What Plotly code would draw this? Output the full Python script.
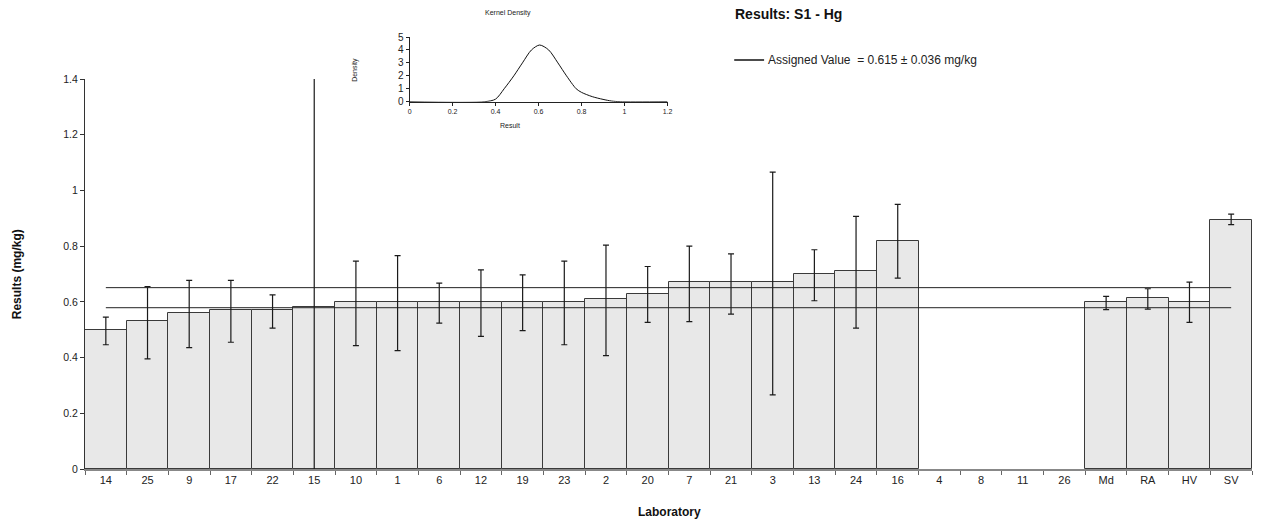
import plotly.graph_objects as go

# ---- data ----
labs = ["14", "25", "9", "17", "22", "15", "10", "1", "6", "12", "19", "23", "2", "20",
        "7", "21", "3", "13", "24", "16", "4", "8", "11", "26", "Md", "RA", "HV", "SV"]
results = [0.50, 0.53, 0.56, 0.57, 0.57, 0.58, 0.60, 0.60, 0.60, 0.60, 0.60, 0.60, 0.61, 0.63,
           0.67, 0.67, 0.67, 0.70, 0.71, 0.82, None, None, None, None, 0.60, 0.615, 0.60, 0.895]
upper = [0.545, 0.655, 0.677, 0.677, 0.625, 1.60, 0.746, 0.766, 0.667, 0.715, 0.697, 0.746, 0.804, 0.727,
         0.800, 0.772, 1.066, 0.787, 0.907, 0.950, None, None, None, None, 0.620, 0.647, 0.671, 0.915]
lower = [0.446, 0.395, 0.436, 0.455, 0.506, -0.40, 0.443, 0.425, 0.524, 0.476, 0.497, 0.446, 0.407, 0.526,
         0.529, 0.556, 0.266, 0.604, 0.506, 0.685, None, None, None, None, 0.572, 0.574, 0.526, 0.877]
assigned = 0.615
assigned_unc = 0.036

kde_x = [0.0, 0.35, 0.40, 0.44, 0.485, 0.525, 0.567, 0.605, 0.647, 0.69, 0.73, 0.775, 0.80, 0.85, 0.90, 0.94, 0.98, 1.2]
kde_y = [0.0, 0.0, 0.2, 1.0, 2.0, 3.0, 4.0, 4.38, 4.0, 3.0, 2.0, 1.0, 0.72, 0.39, 0.18, 0.05, 0.0, 0.0]

# ---- layout helpers (pixel -> paper) ----
W, H = 1261, 526
L, R, T, B = 85, 4, 10, 57
PW, PH = W - L - R, H - T - B


def px(x):
    return (x - L) / PW


def py(y):
    return (H - B - y) / PH


FONT = "Arial, Liberation Sans, sans-serif"

err_plus = [None if (u is None or v is None) else u - v for u, v in zip(upper, results)]
err_minus = [None if (l is None or v is None) else v - l for l, v in zip(lower, results)]

fig = go.Figure()

fig.add_trace(go.Bar(
    x=labs, y=results,
    marker=dict(color="#e8e8e8", line=dict(color="#3a3a3a", width=1)),
    error_y=dict(type="data", symmetric=False, array=err_plus, arrayminus=err_minus,
                 color="#1a1a1a", thickness=1.2, width=3),
    showlegend=False, hoverinfo="x+y",
))

for val in (assigned + assigned_unc, assigned - assigned_unc):
    fig.add_trace(go.Scatter(
        x=[labs[0], labs[-1]], y=[val, val], mode="lines",
        line=dict(color="#222222", width=1), showlegend=False, hoverinfo="skip",
    ))

fig.add_trace(go.Scatter(
    x=kde_x, y=kde_y, mode="lines", line=dict(color="#111111", width=1, shape="spline", smoothing=0.8),
    xaxis="x2", yaxis="y2", showlegend=False, hoverinfo="skip",
))

main_dom_top = py(79)

fig.update_layout(
    width=W, height=H,
    margin=dict(l=L, r=R, t=T, b=B),
    paper_bgcolor="white", plot_bgcolor="white",
    font=dict(family=FONT, size=11, color="#222222"),
    bargap=0,
    xaxis=dict(
        domain=[0, 1], type="category", range=[-0.5, len(labs) - 0.5],
        showline=True, linecolor="#888888", linewidth=1.5,
        ticks="outside", tickson="boundaries", ticklen=4, tickcolor="#666666",
        showgrid=False, zeroline=False, tickfont=dict(size=11, color="#222222"),
        anchor="y",
    ),
    yaxis=dict(
        domain=[0, main_dom_top], range=[0, 1.4], dtick=0.2,
        showline=True, linecolor="#333333", linewidth=1,
        ticks="outside", ticklen=4, tickcolor="#333333",
        showgrid=False, zeroline=False, tickfont=dict(size=10.5, color="#222222"),
        anchor="x",
    ),
    xaxis2=dict(
        domain=[px(411), px(670)], range=[0, 1.2], dtick=0.2, anchor="y2",
        showline=True, linecolor="#222222", linewidth=1,
        ticks="outside", ticklen=3, tickcolor="#222222",
        showgrid=False, zeroline=False, tickfont=dict(size=7, color="#222222"),
    ),
    yaxis2=dict(
        domain=[py(101.7), py(37)], range=[0, 5], dtick=1, anchor="x2",
        showline=True, linecolor="#222222", linewidth=1,
        ticks="outside", ticklen=3, tickcolor="#222222",
        showgrid=False, zeroline=False, tickfont=dict(size=10, color="#222222"),
    ),
)

annotations = [
    dict(text="<b>Results: S1 - Hg</b>", x=px(736), y=py(14), xanchor="left", yanchor="middle",
         font=dict(size=14, color="#111111")),
    dict(text="Assigned Value  = %.3f ± %.3f mg/kg" % (assigned, assigned_unc),
         x=px(769), y=py(60), xanchor="left", yanchor="middle", font=dict(size=12, color="#222222")),
    dict(text="<b>Results (mg/kg)</b>", x=px(17), y=py(274), xanchor="center", yanchor="middle",
         textangle=-90, font=dict(size=12, color="#111111")),
    dict(text="<b>Laboratory</b>", x=px(672), y=py(512), xanchor="center", yanchor="middle",
         font=dict(size=12, color="#111111")),
    dict(text="Kernel Density", x=px(510), y=py(13), xanchor="center", yanchor="middle",
         font=dict(size=7, color="#222222")),
    dict(text="Density", x=px(356), y=py(70), xanchor="center", yanchor="middle",
         textangle=-90, font=dict(size=7, color="#222222")),
    dict(text="Result", x=px(512), y=py(126), xanchor="center", yanchor="middle",
         font=dict(size=7, color="#222222")),
]
for a in annotations:
    a.update(xref="paper", yref="paper", showarrow=False)
fig.update_layout(annotations=annotations)

fig.add_shape(type="line", xref="paper", yref="paper", x0=px(737), x1=px(767), y0=py(60), y1=py(60),
              line=dict(color="#111111", width=1.5))

fig.write_html("out.html", config={"displayModeBar": False},
               post_script="document.body.style.margin='0px';document.body.style.overflow='hidden';")
